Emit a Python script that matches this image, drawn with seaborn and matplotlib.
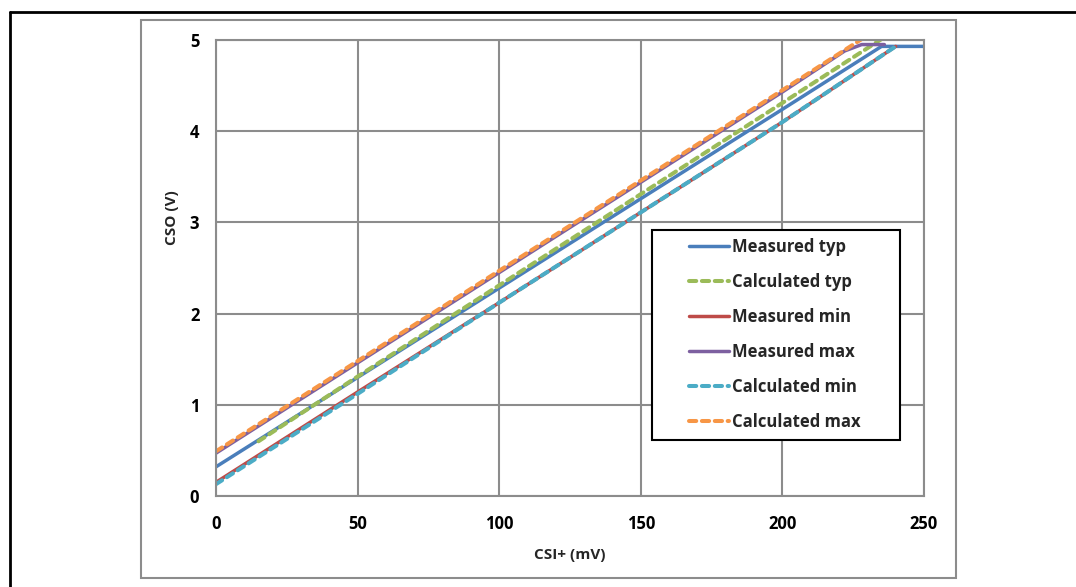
import matplotlib
matplotlib.use("Agg")
import matplotlib.pyplot as plt
from matplotlib.lines import Line2D
from matplotlib.patches import Rectangle
import pandas as pd
import seaborn as sns

# values (CSI+ in mV, CSO in V)
meas_typ_x = [0, 50, 100, 150, 200, 235, 250]
meas_typ_y = [0.32, 1.30, 2.28, 3.26, 4.24, 4.93, 4.93]

calc_typ_x = [15, 50, 100, 150, 200, 236]
calc_typ_y = [0.60, 1.31, 2.31, 3.31, 4.31, 5.03]

meas_min_x = [0, 50, 100, 150, 200, 240]
meas_min_y = [0.15, 1.14, 2.12, 3.11, 4.10, 4.93]

meas_max_x = [0, 50, 100, 150, 200, 222, 228, 236]
meas_max_y = [0.47, 1.46, 2.45, 3.44, 4.43, 4.88, 4.95, 4.95]

calc_min_x = [0, 50, 100, 150, 200, 240]
calc_min_y = [0.13, 1.12, 2.12, 3.11, 4.10, 4.93]

calc_max_x = [0, 50, 100, 150, 200, 230]
calc_max_y = [0.49, 1.48, 2.47, 3.46, 4.45, 5.05]

x_ticks = [0, 50, 100, 150, 200, 250]
y_ticks = [0, 1, 2, 3, 4, 5]

series = [
    ("Measured typ", meas_typ_x, meas_typ_y, "#4A7EBB", "-"),
    ("Calculated typ", calc_typ_x, calc_typ_y, "#9BBB59", "--"),
    ("Measured min", meas_min_x, meas_min_y, "#BE4B48", "-"),
    ("Measured max", meas_max_x, meas_max_y, "#7D60A0", "-"),
    ("Calculated min", calc_min_x, calc_min_y, "#4BACC6", "--"),
    ("Calculated max", calc_max_x, calc_max_y, "#F79646", "--"),
]

sns.set_style("white")
plt.rcParams['font.family'] = ['Open Sans', 'DejaVu Sans']
plt.rcParams['font.weight'] = 'bold'

W, H = 1076, 587
fig = plt.figure(figsize=(W / 100, H / 100), dpi=100)
ax = fig.add_axes([216 / W, 1 - 496 / H, 708 / W, 456 / H])

# outer frame and chart box
fig.add_artist(Line2D([10 / W, 1.0], [1 - 12 / H, 1 - 12 / H], color="black", lw=2, transform=fig.transFigure))
fig.add_artist(Line2D([10 / W, 10 / W], [0, 1 - 12 / H], color="black", lw=2, transform=fig.transFigure))
fig.add_artist(Rectangle((141 / W, 1 - 578 / H), 815 / W, 558 / H, fill=False,
                         edgecolor="#8C8C8C", lw=1.5, transform=fig.transFigure))

grid_c = "#8C8C8C"
handles = []
for name, xs, ys, color, ls in series:
    lw = 2.9 if ls == "--" else 2.5
    df = pd.DataFrame({"x": xs, "y": ys})
    sns.lineplot(data=df, x="x", y="y", ax=ax, color=color, lw=lw, sort=False,
                 estimator=None, legend=False)
    line = ax.lines[-1]
    line.set_linestyle(ls)
    line.set_solid_capstyle("round")
    if ls == "--":
        line.set_dashes((1.8, 1.4))
        line.set_dash_capstyle("round")
    h = Line2D([0], [0], color=color, lw=lw, linestyle=ls)
    if ls == "--":
        h.set_dashes((1.8, 1.4))
        h.set_dash_capstyle("round")
    handles.append((h, name))

ax.set_xlim(0, 250)
ax.set_ylim(0, 5)
ax.set_xticks(x_ticks)
ax.set_yticks(y_ticks)
ax.grid(True, color=grid_c, lw=1.5)
for s in ax.spines.values():
    s.set_color(grid_c)
    s.set_linewidth(1.5)
ax.tick_params(axis="both", which="major", length=6, width=1.5, color=grid_c,
               labelsize=12, labelcolor="black", direction="out")
ax.tick_params(axis="x", pad=8)
ax.tick_params(axis="y", pad=6)
for lab in ax.get_xticklabels() + ax.get_yticklabels():
    lab.set_fontweight("bold")

ax.set_xlabel("CSI+ (mV)", fontsize=11, fontweight="bold")
ax.set_ylabel("CSO (V)", fontsize=11, fontweight="bold")
ax.xaxis.set_label_coords(0.5, -0.115)
ax.yaxis.set_label_coords(-0.052, 0.61)

# legend box drawn separately so the wide side padding matches
fig.add_artist(Rectangle((652 / W, 1 - 440 / H), 248 / W, 210 / H, facecolor="white",
                         edgecolor="black", lw=1.5, transform=fig.transFigure, zorder=5))
leg = fig.legend([h for h, _ in handles], [n for _, n in handles],
                 loc="upper left", bbox_to_anchor=(689 / W, 1 - 238 / H),
                 frameon=False, prop={"size": 12, "weight": "bold"}, handlelength=2.4,
                 labelspacing=1.02, handletextpad=0.2, borderpad=0, borderaxespad=0)
leg.set_zorder(6)

fig.savefig("out.png", dpi=100)
